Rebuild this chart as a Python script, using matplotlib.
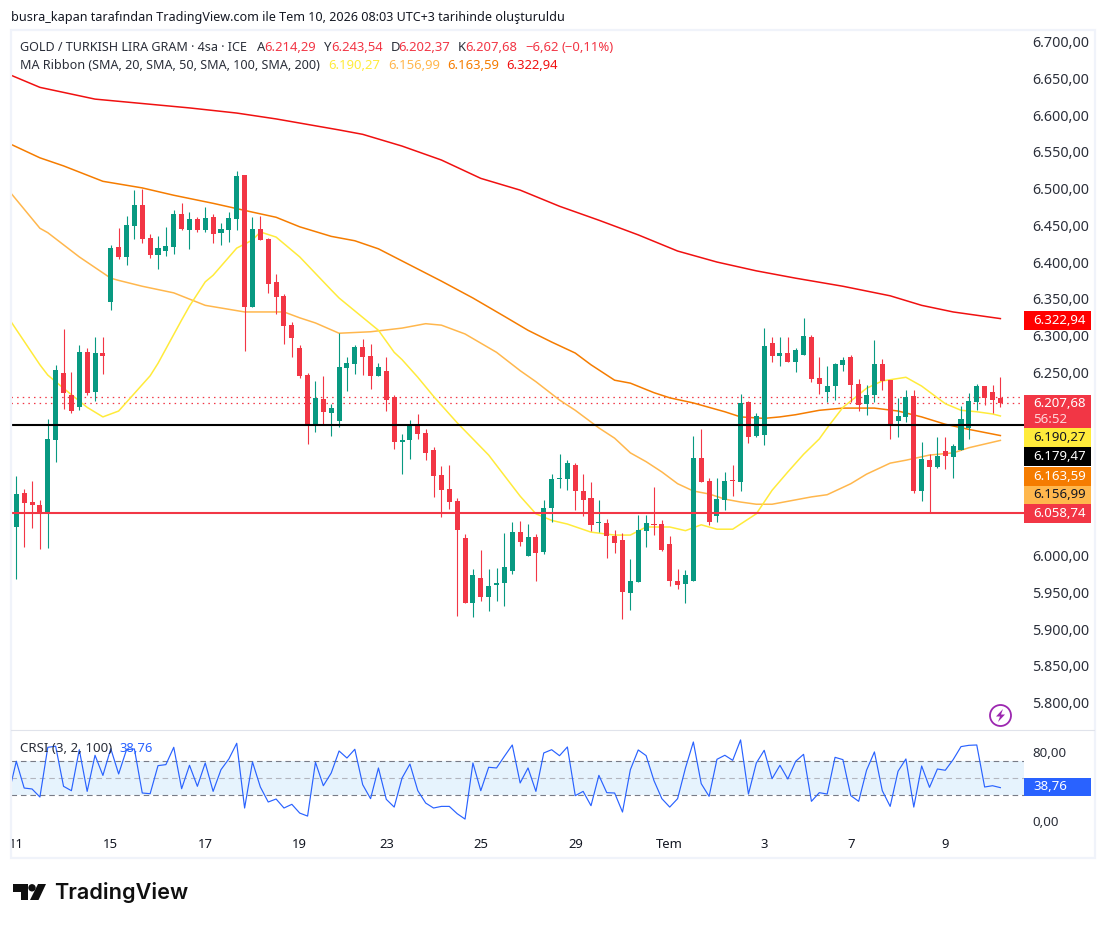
import matplotlib
matplotlib.use("Agg")
import matplotlib.pyplot as plt
from matplotlib.patches import Rectangle, Polygon, Circle

plt.rcParams['font.family'] = ['Noto Sans', 'DejaVu Sans']

# ---------- data ----------
opens = [6039,6085,6073,6069,6057,6158,6249,6219,6202,6277,6223,6276,6346,6420,6407,6449,6478,6433,6410,6415,
         6420,6465,6444,6459,6444,6461,6440,6444,6459,6519,6339,6445,6431,6373,6354,6314,6283,6246,6178,6213,
         6194,6183,6256,6261,6284,6272,6245,6252,6216,6155,6158,6178,6167,6144,6110,6091,6074,6024,5935,5970,
         5944,5960,5963,5979,6032,5999,6025,6005,6065,6104,6104,6123,6088,6078,6044,6044,6027,6021,5949,5964,
         6034,6043,6043,6016,5965,5961,5965,6133,6102,6054,6076,6103,6100,6209,6163,6164,6290,6272,6276,6264,
         6273,6298,6242,6223,6231,6260,6271,6234,6207,6219,6261,6239,6183,6189,6217,6088,6130,6121,6143,6134,
         6144,6174,6209,6231,6223,6214.29]
highs = [6108,6091,6102,6076,6186,6260,6309,6250,6287,6283,6298,6298,6423,6446,6463,6498,6499,6438,6435,6448,
         6471,6480,6468,6461,6475,6465,6453,6468,6524,6519,6461,6463,6433,6384,6356,6318,6287,6249,6238,6245,
         6207,6303,6271,6287,6295,6288,6262,6271,6219,6166,6185,6193,6172,6148,6122,6123,6079,6029,5982,6008,
         5982,5983,6031,6046,6047,6043,6029,6076,6111,6138,6130,6126,6111,6100,6076,6050,6035,6031,5995,6055,
         6055,6093,6049,6027,5982,5980,6163,6172,6106,6106,6114,6123,6220,6211,6194,6310,6298,6298,6298,6283,
         6324,6301,6271,6258,6262,6271,6273,6241,6232,6294,6268,6239,6215,6226,6226,6155,6138,6162,6162,6152,
         6204,6222,6234,6231,6232,6243.54]
lows = [5968,6012,6038,6009,6010,6128,6200,6194,6198,6219,6211,6247,6335,6404,6396,6431,6426,6405,6390,6408,
        6411,6444,6418,6441,6441,6426,6423,6427,6444,6279,6339,6430,6358,6329,6288,6271,6242,6152,6168,6178,
        6163,6175,6224,6247,6246,6227,6245,6197,6145,6111,6132,6159,6130,6080,6053,6064,5918,5935,5916,5938,
        5925,5938,5931,5975,6013,5999,5965,6002,6046,6092,6089,6062,6054,6034,6032,5997,6004,5914,5926,5964,
        6012,6028,6006,5959,5955,5935,5965,6100,6042,6046,6062,6081,6088,6153,6162,6151,6264,6258,6264,6250,
        6273,6237,6220,6209,6212,6252,6209,6197,6192,6209,6226,6159,6162,6182,6085,6074,6059,6119,6118,6106,
        6144,6159,6198,6205,6194,6202.37]
closes = [6084,6072,6069,6058,6159,6253,6222,6197,6277,6222,6276,6272,6419,6407,6450,6478,6431,6410,6419,6422,
          6465,6445,6459,6444,6460,6438,6445,6460,6517,6339,6445,6430,6370,6352,6313,6296,6245,6178,6215,6196,
          6201,6257,6262,6284,6271,6245,6257,6212,6155,6158,6178,6166,6140,6108,6089,6073,6035,5935,5974,5944,
          5959,5963,5985,6032,6019,6025,6004,6065,6104,6106,6126,6088,6076,6042,6046,6027,6017,5950,5965,6035,
          6044,6042,6008,5965,5960,5974,6133,6100,6046,6077,6102,6102,6208,6162,6190,6286,6272,6276,6264,6280,
          6299,6241,6234,6231,6261,6267,6232,6205,6219,6261,6238,6178,6190,6216,6088,6132,6121,6136,6136,6149,
          6186,6211,6231,6215,6212,6207.68]

sma20_idx = [-1,3,4,6,9,11,13,17,18,21,22,24,25,28,30,31,33,36,40,41,46,48,49,51,53,56,60,64,66,68,70,73,76,78,80,
             83,85,87,89,91,94,96,98,100,102,103,105,108,110,113,115,118,120,122,124,125]
sma20_val = [6324,6260,6246,6228,6202,6189,6197,6245,6262,6321,6340,6373,6382,6419,6430,6441,6434,6407,6362,6351,
             6307,6277,6267,6243,6217,6181,6137,6081,6057,6048,6043,6032,6028,6028,6039,6039,6034,6042,6036,6036,
             6057,6089,6114,6138,6159,6174,6202,6228,6238,6243,6231,6207,6198,6196,6193,6190.27]
sma50_idx = [-1,3,4,8,12,13,16,20,24,29,31,34,36,38,41,45,49,52,54,57,61,64,66,69,71,74,76,78,80,82,84,86,88,90,92,
             94,96,98,101,103,106,108,111,113,116,119,121,125]
sma50_val = [6498,6446,6440,6407,6378,6375,6367,6358,6341,6332,6332,6332,6324,6317,6303,6305,6310,6316,6314,6302,
             6277,6252,6237,6212,6198,6174,6160,6140,6128,6114,6098,6088,6084,6077,6073,6070,6070,6074,6080,6083,
             6098,6111,6126,6130,6137,6140,6147,6156.99]
sma100_idx = [-1,3,6,11,16,20,25,30,33,36,40,43,46,50,54,58,62,65,68,71,73,76,78,81,83,86,90,92,95,97,99,102,105,
              109,112,115,118,121,125]
sma100_val = [6562,6542,6531,6510,6501,6491,6480,6468,6461,6448,6435,6429,6418,6396,6374,6351,6326,6307,6291,6276,
              6260,6239,6235,6222,6215,6208,6196,6189,6187,6189,6192,6198,6201,6201,6197,6189,6179,6172,6163.59]
sma200_idx = [-1,3,10,15,22,28,33,41,44,49,54,59,64,69,74,79,84,89,94,99,105,111,115,119,125]
sma200_val = [6656,6638,6622,6617,6610,6603,6595,6580,6574,6558,6539,6514,6498,6476,6457,6437,6415,6400,6388,6378,
              6367,6354,6341,6332,6322.94]

crsi_idx = list(range(-1, 126))
crsi_val = [30.5,69.5,38.3,37.2,27.8,85.8,87,40.3,35.2,83,34.4,76.5,53,84.2,54.7,83,83.9,32.5,31.7,64.4,65.6,85.8,
            37.5,64.8,40.3,67.5,34.4,59.7,72.2,90.5,15,68.7,39.5,22,25.5,15,19.3,9.1,5.6,68.3,41,55.8,81.5,73.3,
            83.5,42.2,25.9,61.7,25.1,16.1,50,66.3,35.2,20.8,15,16.9,16.9,8.4,2.1,67.5,35.2,62.5,61.7,75.3,88.5,
            44.2,61.7,34.4,79.2,83,76,86.2,29.4,34.4,17.7,53.1,32.9,32.5,10.3,59.7,82.7,76.1,46.9,25.9,16.1,25.9,
            61.7,92,43.4,28.6,71.8,76.5,70.6,94.4,31.3,67.5,82.3,49.2,64.8,48.8,69.5,77.6,22.8,32.9,31.3,74.1,
            71.4,29.4,22.8,59,80.4,35.2,16.9,57.8,72.2,16.1,64,39.1,60.5,59,71.4,86.6,88.1,88.5,39.5,41,38.76]

price_ticks = [6700,6650,6600,6550,6500,6450,6400,6350,6300,6250,6200,6150,6100,6050,6000,5950,5900,5850,5800]
price_labels = ['6.700,00','6.650,00','6.600,00','6.550,00','6.500,00','6.450,00','6.400,00','6.350,00','6.300,00',
                '6.250,00','','','','','6.000,00','5.950,00','5.900,00','5.850,00','5.800,00']
crsi_ticks = [80, 0]
crsi_labels = ['80,00', '0,00']
time_idx = [0,12,24,36,47,59,71,83,95,106,118]
time_labels = ['11','15','17','19','23','25','29','Tem','3','7','9']
hline_black = 6178.3
hline_red = 6058.74
dotted_levels = [6216, 6207.68]

UP, DOWN = '#089981', '#f23645'
TXT = '#131722'
W, H = 1106, 925

fig = plt.figure(figsize=(W/100, H/100), dpi=100, facecolor='white')
def box(l, t, r, b):
    return [l/W, 1-b/H, (r-l)/W, (b-t)/H]

ax = fig.add_axes(box(11, 31, 1024, 730))
ax.set_xlim(-0.673, 128.0)
ax.set_ylim(5762.4, 6714.8)

# MA lines below candles
ax.plot(sma50_idx, sma50_val, color='#ffb74d', lw=1.1, zorder=2)
ax.plot(sma100_idx, sma100_val, color='#f57c00', lw=1.1, zorder=2)
ax.plot(sma200_idx, sma200_val, color='#f01010', lw=1.1, zorder=2)
ax.plot(sma20_idx, sma20_val, color='#ffeb3b', lw=1.1, zorder=2)

xs = list(range(len(opens)))
cols = [UP if c >= o else DOWN for o, c in zip(opens, closes)]
ax.vlines(xs, lows, highs, colors=cols, lw=0.8, zorder=3)
ax.bar(xs, [max(abs(c-o), 1.4) for o, c in zip(opens, closes)],
       bottom=[min(o, c) for o, c in zip(opens, closes)], width=0.64, color=cols, linewidth=0, zorder=3)

ax.axhline(hline_black, color='black', lw=1.5, zorder=4)
ax.axhline(hline_red, color='#f23645', lw=1.5, zorder=4)
for lv in dotted_levels:
    ax.axhline(lv, color='#f23645', lw=0.9, ls=(0, (1.2, 3.3)), zorder=1)

ax.yaxis.tick_right()
ax.set_yticks(price_ticks)
ax.set_yticklabels(price_labels, fontsize=10.3, color='#2a2e39')
ax.tick_params(axis='y', length=0, pad=6)
ax.set_xticks([])
for s in ax.spines.values():
    s.set_visible(False)

# CRSI pane
axc = fig.add_axes(box(11, 731, 1024, 828))
axc.set_xlim(-0.673, 128.0)
axc.set_ylim(-8.3, 104.8)
axc.axhspan(30, 70, color='#e6f3fd', lw=0)
for lv, c in [(70, '#787b86'), (50, '#b2b5be'), (30, '#787b86')]:
    axc.axhline(lv, color=c, lw=0.8, ls=(0, (5, 3.5)))
axc.plot(crsi_idx, crsi_val, color='#2962ff', lw=0.85, zorder=3)
axc.yaxis.tick_right()
axc.set_yticks(crsi_ticks)
axc.set_yticklabels(crsi_labels, fontsize=9.6, color='#2a2e39')
axc.tick_params(axis='y', length=0, pad=6)
axc.set_xticks(time_idx)
axc.set_xticklabels(time_labels, fontsize=9.4, color=TXT)
axc.tick_params(axis='x', length=0, pad=7.5)
for lab in axc.get_xticklabels():
    if lab.get_text() == 'Tem':
        lab.set_fontweight('bold')
for s in axc.spines.values():
    s.set_visible(False)

# chrome in pixel coordinates
ov = fig.add_axes([0, 0, 1, 1], zorder=10)
ov.set_xlim(0, W); ov.set_ylim(H, 0); ov.axis('off'); ov.patch.set_alpha(0)
ov.add_patch(Rectangle((10.5, 29.5), 1084, 828.5, fill=False, ec='#f0f3fa', lw=1.6))
ov.plot([11, 1094], [730, 730], color='#e0e3eb', lw=0.8)

def T(x, y, s, color=TXT, size=9.4, **kw):
    ov.text(x, y, s, color=color, fontsize=size, va='center', ha=kw.pop('ha', 'left'), **kw)

T(11, 17, 'busra_kapan tarafından TradingView.com ile Tem 10, 2026 08:03 UTC+3 tarihinde oluşturuldu', size=9.03)
T(20, 47.5, 'GOLD / TURKISH LIRA GRAM · 4sa · ICE', color='#2a2e39', size=9.05)
for x, s in [(257, 'A'), (324, 'Y'), (391, 'D'), (458, 'K')]:
    T(x, 47.5, s, color='#2a2e39')
for x, s in [(264.5, '6.214,29'), (331, '6.243,54'), (398.5, '6.202,37'), (465.5, '6.207,68'), (525, '−6,62'), (562, '(−0,11%)')]:
    T(x, 47.5, s, color=DOWN)
T(20, 65.5, 'MA Ribbon (SMA, 20, SMA, 50, SMA, 100, SMA, 200)', color='#2a2e39', size=9.05)
for x, s, c in [(328, '6.190,27', '#ffeb3b'), (388, '6.156,99', '#ffb74d'), (447, '6.163,59', '#f57c00'), (506, '6.322,94', '#f01010')]:
    T(x, 65.5, s, color=c)
T(20, 748, 'CRSI (3, 2, 100)', color='#2a2e39', size=9.6)
T(119.5, 748, '38,76', color='#2962ff')

# axis price labels
def tag(top, bot, fc, lines, tc):
    ov.add_patch(Rectangle((1024, top), 66.5, bot-top, fc=fc, ec='none', zorder=5))
    n = len(lines)
    for k, s in enumerate(lines):
        y = top + (bot-top)*(k+0.5)/n
        ov.text(1033, y, s, color=tc if k == 0 else '#ffd5d9', fontsize=9.5, va='center', zorder=6)

tag(311, 330, '#ff0000', ['6.322,94'], 'white')
tag(395, 428, '#f23645', ['6.207,68', '56:52'], 'white')
tag(428, 447, '#ffeb3b', ['6.190,27'], TXT)
tag(447, 466, '#000000', ['6.179,47'], 'white')
tag(467, 486, '#f57c00', ['6.163,59'], 'white')
tag(486, 504, '#ffb74d', ['6.156,99'], TXT)
tag(504, 523, '#f23645', ['6.058,74'], 'white')
tag(778, 796, '#2962ff', ['38,76'], 'white')

# purple bolt icon
ov.add_patch(Circle((1000.5, 715.5), 10.5, fill=False, ec='#9c27b0', lw=1.3))
ov.add_patch(Polygon([(1003, 709), (996, 716.5), (1000, 716.5), (998, 722), (1005, 714.5), (1001, 714.5)],
                     closed=True, fc='#9c27b0', ec='none'))

# TradingView logo
K = '#0f0f0f'
ov.add_patch(Polygon([(13, 884), (28, 884), (28, 900), (20.5, 900), (20.5, 892), (13, 892)], closed=True, fc=K, ec='none'))
ov.add_patch(Circle((32, 887.8), 3.7, fc=K, ec='none'))
ov.add_patch(Polygon([(38, 884), (46, 884), (38.5, 900), (30, 900)], closed=True, fc=K, ec='none'))
ov.text(54, 892.5, 'TradingView', color=K, fontsize=15.6, family=['Inter', 'DejaVu Sans'], weight='semibold', va='center')

fig.savefig('out.png', dpi=100, facecolor='white')
